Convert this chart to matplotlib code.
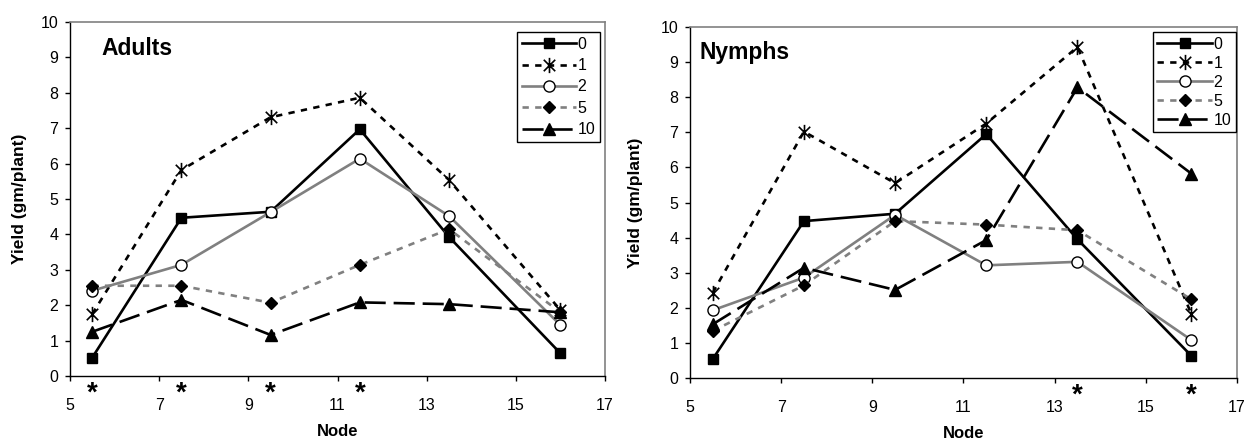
import matplotlib
matplotlib.use('Agg')
import matplotlib.pyplot as plt
import matplotlib.transforms as mtransforms
from matplotlib.path import Path

plt.rcParams['font.family'] = ['Liberation Sans', 'DejaVu Sans']

# data
nodes = [5.5, 7.5, 9.5, 11.5, 13.5, 16]
series_names = ['0', '1', '2', '5', '10']

adults = {
    '0':  [0.52, 4.47, 4.64, 6.97, 3.93, 0.64],
    '1':  [1.75, 5.82, 7.31, 7.86, 5.54, 1.86],
    '2':  [2.41, 3.14, 4.63, 6.14, 4.52, 1.44],
    '5':  [2.55, 2.55, 2.07, 3.14, 4.15, 1.80],
    '10': [1.25, 2.15, 1.16, 2.08, 2.03, 1.80],
}
nymphs = {
    '0':  [0.54, 4.47, 4.68, 6.95, 3.95, 0.63],
    '1':  [2.43, 7.02, 5.55, 7.25, 9.43, 1.82],
    '2':  [1.93, 2.86, 4.65, 3.21, 3.31, 1.08],
    '5':  [1.34, 2.64, 4.47, 4.37, 4.21, 2.24],
    '10': [1.53, 3.14, 2.51, 3.93, 8.28, 5.82],
}
adult_sig = [5.5, 7.5, 9.5, 11.5]
nymph_sig = [13.5, 16]

# excel-like star: X with a vertical bar
star = Path([(0, -1), (0, 1), (-0.75, -0.75), (0.75, 0.75), (-0.75, 0.75), (0.75, -0.75)],
            [Path.MOVETO, Path.LINETO, Path.MOVETO, Path.LINETO, Path.MOVETO, Path.LINETO])

GRAY = '#808080'
styles = {
    '0':  dict(color='black', ls='-', marker='s', ms=7, mfc='black', mec='black'),
    '1':  dict(color='black', ls=(0, (2.4, 2.4)), marker=star, ms=11, mec='black', mew=1.2),
    '2':  dict(color=GRAY, ls='-', marker='o', ms=8, mfc='white', mec='black', mew=1.0),
    '5':  dict(color=GRAY, ls=(0, (2.4, 2.4)), marker='D', ms=6, mfc='black', mec='black'),
    '10': dict(color='black', ls=(0, (8, 3)), marker='^', ms=8, mfc='black', mec='black'),
}

fig = plt.figure(figsize=(12.47, 4.42), dpi=100)
ax1 = fig.add_axes([0.0561, 0.1493, 0.4291, 0.8009])
ax2 = fig.add_axes([0.5533, 0.1448, 0.4387, 0.7941])


def draw(ax, data, title, sig, title_xy, leg_anchor, leg_spacing, ylab_x):
    for name in series_names:
        ax.plot(nodes, data[name], lw=1.9, label=name, **styles[name])
    ax.set_xlim(5, 17)
    ax.set_ylim(0, 10)
    ax.set_xticks(range(5, 18, 2))
    ax.set_yticks(range(0, 11))
    ax.tick_params(axis='both', labelsize=11.5, length=3.5, width=1, direction='out')
    ax.tick_params(axis='x', pad=12)
    ax.tick_params(axis='y', pad=5)
    for s in ['left', 'bottom']:
        ax.spines[s].set_color('black')
        ax.spines[s].set_linewidth(1)
    for s in ['top', 'right']:
        ax.spines[s].set_color(GRAY)
        ax.spines[s].set_linewidth(1.2)
    ax.text(title_xy[0], title_xy[1], title, transform=ax.transAxes,
            fontsize=16.5, fontweight='bold', va='baseline', ha='left')
    ax.set_xlabel('Node', fontsize=12, fontweight='bold', labelpad=8)
    ax.set_ylabel('Yield (gm/plant)', fontsize=12.5, fontweight='bold')
    ax.yaxis.set_label_coords(ylab_x, 0.5)
    trans = mtransforms.blended_transform_factory(ax.transData, ax.transAxes)
    for x in sig:
        ax.text(x, -0.05, '*', transform=trans, ha='center', va='center',
                fontsize=20, fontweight='bold')
    leg = ax.legend(loc='upper right', bbox_to_anchor=leg_anchor, borderaxespad=0,
                    fontsize=11.5, handlelength=3.4, handletextpad=0.1,
                    labelspacing=leg_spacing, borderpad=0.3, fancybox=False,
                    framealpha=1, edgecolor='black', numpoints=1)
    leg.get_frame().set_linewidth(1.0)


draw(ax1, adults, 'Adults', adult_sig, (0.058, 0.907), (0.991, 0.972), 0.4, -0.08)
draw(ax2, nymphs, 'Nymphs', nymph_sig, (0.018, 0.909), (0.998, 0.986), 0.25, -0.085)

fig.savefig('out.png', dpi=100)
